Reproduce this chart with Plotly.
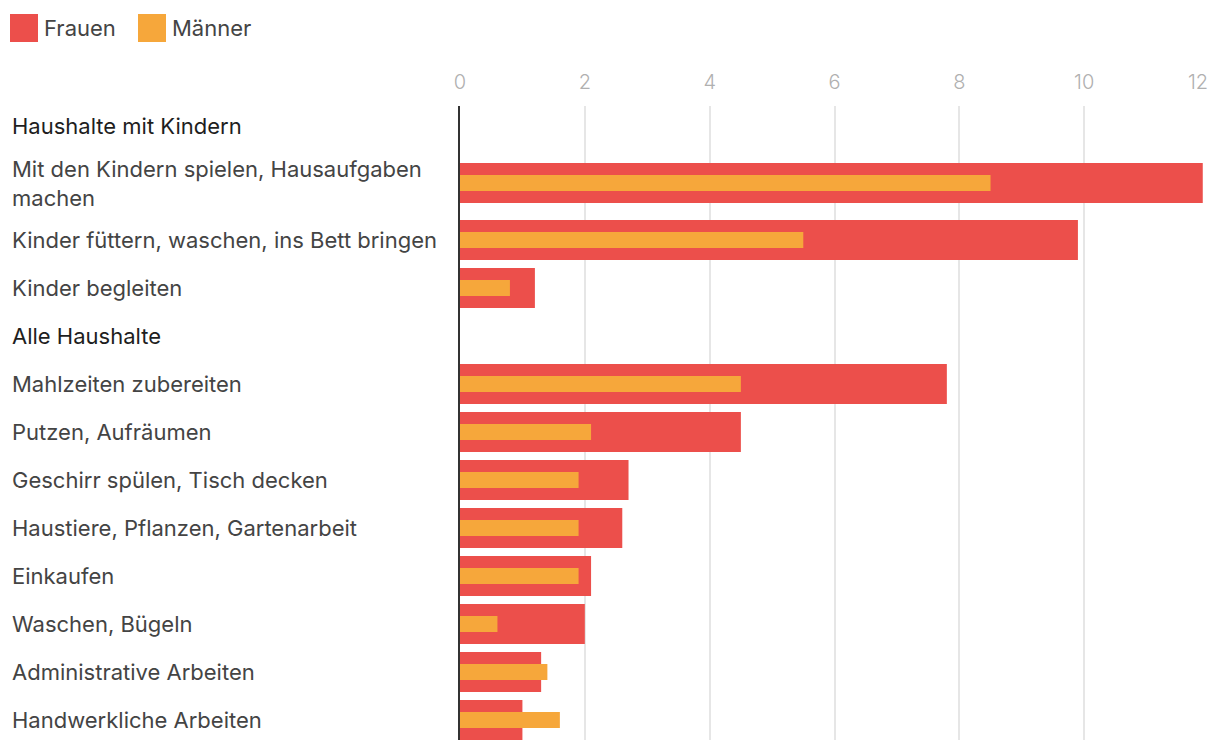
import plotly.graph_objects as go

# ---------------- data ----------------
categories = [
    "Haushalte mit Kindern",
    "Mit den Kindern spielen, Hausaufgaben<br>machen",
    "Kinder füttern, waschen, ins Bett bringen",
    "Kinder begleiten",
    "Alle Haushalte",
    "Mahlzeiten zubereiten",
    "Putzen, Aufräumen",
    "Geschirr spülen, Tisch decken",
    "Haustiere, Pflanzen, Gartenarbeit",
    "Einkaufen",
    "Waschen, Bügeln",
    "Administrative Arbeiten",
    "Handwerkliche Arbeiten",
]
is_header = [True, False, False, False, True, False, False, False, False, False, False, False, False]
frauen = [None, 11.9, 9.9, 1.2, None, 7.8, 4.5, 2.7, 2.6, 2.1, 2.0, 1.3, 1.0]
maenner = [None, 8.5, 5.5, 0.8, None, 4.5, 2.1, 1.9, 1.9, 1.9, 0.6, 1.4, 1.6]
series_names = ["Frauen", "Männer"]
x_ticks = [0, 2, 4, 6, 8, 10, 12]
x_ticklabels = ["0", "2", "4", "6", "8", "10", "12"]

# ---------------- styling / layout ----------------
RED = "#EC4F4B"
ORANGE = "#F6A73B"
FONT = "Inter"
OFF = 8  # page body margin
W, H = 1220 - OFF, 752 - OFF
ML, MR, MT, MB = 460 - OFF, 11, 106 - OFF, 12
BASE_ROW = 48
EXTRA_LINE = 18
TICK_FONT = dict(family=FONT, size=20, color="#b0b0b0", weight=300)

# row centres in "row units" (1 unit == 1 px of plot height)
centers = []
pos = 0
for c in categories:
    h = BASE_ROW + EXTRA_LINE * (c.count("<br>"))
    centers.append(pos + h / 2)
    pos += h
y_top = centers[0] - 20
y_bottom = y_top + (H - MT - MB)

fig = go.Figure()
fig.add_trace(go.Bar(
    x=frauen, y=centers, orientation="h", width=40,
    marker=dict(color=RED, line=dict(width=0)), name=series_names[0],
    showlegend=False, hoverinfo="x+name",
))
fig.add_trace(go.Bar(
    x=maenner, y=centers, orientation="h", width=16,
    marker=dict(color=ORANGE, line=dict(width=0)), name=series_names[1],
    showlegend=False, hoverinfo="x+name",
))

pw = W - ML - MR
ph = H - MT - MB


def px_x(p):
    # p: pixel in the screenshot
    return (p - OFF - ML) / pw


def px_y(p):
    return (H - MB - (p - OFF)) / ph


annotations = []
for c, yc, hd in zip(categories, centers, is_header):
    annotations.append(dict(
        text=c, xref="paper", yref="y", x=px_x(10), y=yc,
        xanchor="left", yanchor="middle", align="left", showarrow=False,
        font=dict(family=FONT, size=22, color="#1e1e1e" if hd else "#444444"),
    ))

# manual legend
shapes = []
leg = [(10, RED, series_names[0]), (138, ORANGE, series_names[1])]
for x0, col, name in leg:
    shapes.append(dict(type="rect", xref="paper", yref="paper",
                       x0=px_x(x0), x1=px_x(x0 + 28), y0=px_y(42), y1=px_y(14),
                       fillcolor=col, line=dict(width=0)))
    annotations.append(dict(text=name, xref="paper", yref="paper",
                            x=px_x(x0 + 32), y=px_y(28), xanchor="left", yanchor="middle",
                            showarrow=False, font=dict(family=FONT, size=22, color="#444")))

# last tick label is right-aligned to its gridline (it would overflow otherwise)
ticktext = list(x_ticklabels[:-1]) + [""]
annotations.append(dict(text=x_ticklabels[-1], xref="x", yref="paper", x=x_ticks[-1],
                        y=px_y(82), xanchor="right", yanchor="middle", xshift=1,
                        showarrow=False, font=TICK_FONT))

fig.update_layout(
    template="none",
    width=W, height=H, margin=dict(l=ML, r=MR, t=MT, b=MB, autoexpand=False),
    barmode="overlay", plot_bgcolor="white", paper_bgcolor="white",
    font=dict(family=FONT),
    shapes=shapes, annotations=annotations,
    xaxis=dict(side="top", range=[0, 12], tickvals=x_ticks, ticktext=ticktext,
               showgrid=True, gridcolor="#e6e6e6", gridwidth=2, zeroline=False,
               automargin=False, showline=False,
               tickfont=TICK_FONT,
               ticks="", ticklabelstandoff=12, fixedrange=True),
    yaxis=dict(range=[y_bottom, y_top], showticklabels=False, showgrid=False,
               automargin=False,
               zeroline=False, showline=True, linecolor="#333", linewidth=2,
               ticks="", fixedrange=True),
)

fig.write_html("out.html", config={"displayModeBar": False})
